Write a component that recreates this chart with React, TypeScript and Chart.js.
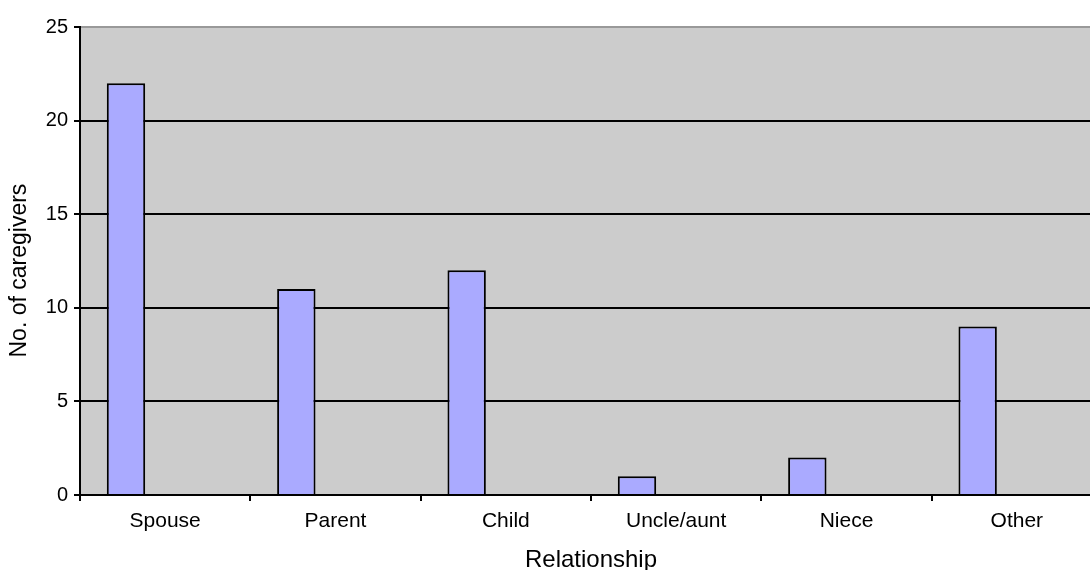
import React, { useEffect, useRef } from "react";
import { Chart, registerables } from "chart.js";

Chart.register(...registerables);

const categories = ["Spouse", "Parent", "Child", "Uncle/aunt", "Niece", "Other"];
const caregivers = [22, 11, 12, 1, 2, 9];
const emptySeries = [null, null, null, null, null, null];
const yTicks = [0, 5, 10, 15, 20, 25];

const FONT = "'Liberation Sans', Arial, sans-serif";

const plotBackground = {
  id: "plotBackground",
  beforeDraw(chart: any) {
    const { ctx, chartArea } = chart;
    ctx.save();
    ctx.fillStyle = "#cccccc";
    ctx.fillRect(chartArea.left, chartArea.top, chartArea.right - chartArea.left, chartArea.bottom - chartArea.top);
    ctx.restore();
  },
};

export default function App() {
  const ref = useRef<HTMLCanvasElement | null>(null);

  useEffect(() => {
    if (!ref.current) return;
    const chart = new Chart(ref.current, {
      type: "bar",
      data: {
        labels: categories,
        datasets: [
          {
            label: "No. of caregivers",
            data: caregivers,
            backgroundColor: "#aaaaff",
            borderColor: "#000000",
            borderWidth: 2,
            categoryPercentage: 0.92,
            barPercentage: 0.49,
          },
          {
            label: "",
            data: emptySeries,
            backgroundColor: "#aaaaff",
            borderColor: "#000000",
            borderWidth: 2,
            categoryPercentage: 0.92,
            barPercentage: 0.49,
          },
        ],
      },
      options: {
        responsive: false,
        animation: false,
        devicePixelRatio: 1,
        layout: { padding: { top: 27, left: 0, right: 0, bottom: 0 } },
        plugins: {
          legend: { display: false },
          tooltip: { enabled: false },
        },
        scales: {
          x: {
            offset: true,
            grid: {
              offset: true,
              drawOnChartArea: false,
              drawTicks: true,
              tickLength: 6,
              color: "#000000",
              lineWidth: 2,
            },
            border: { display: true, color: "#000000", width: 2 },
            ticks: {
              color: "#000000",
              padding: 8,
              maxRotation: 0,
              font: { family: FONT, size: 21 },
            },
            title: {
              display: true,
              text: "Relationship",
              color: "#000000",
              font: { family: FONT, size: 24 },
              padding: { top: 0, bottom: 0 },
            },
            afterFit(scale: any) {
              scale.height = 80;
            },
          },
          y: {
            min: 0,
            max: 25,
            afterBuildTicks(scale: any) {
              scale.ticks = yTicks.map((v) => ({ value: v }));
            },
            grid: {
              color: (c: any) => (c.tick && c.tick.value === 25 ? "#999999" : "#000000"),
              tickColor: "#000000",
              lineWidth: 2,
              tickLength: 6,
              drawTicks: true,
            },
            border: { display: true, color: "#000000", width: 2 },
            ticks: {
              color: "#000000",
              padding: 6,
              font: { family: FONT, size: 20 },
            },
            title: {
              display: true,
              text: "No. of caregivers   ",
              color: "#000000",
              font: { family: FONT, size: 23 },
              padding: { top: 6, bottom: 0 },
            },
            afterFit(scale: any) {
              scale.width = 80;
            },
          },
        },
      },
      plugins: [plotBackground],
    });
    return () => chart.destroy();
  }, []);

  return (
    <div style={{ position: "fixed", left: 0, top: 0, width: 1090, height: 570, overflow: "hidden", background: "#ffffff" }}>
      <canvas ref={ref} width={1102} height={575} style={{ display: "block" }} />
    </div>
  );
}
